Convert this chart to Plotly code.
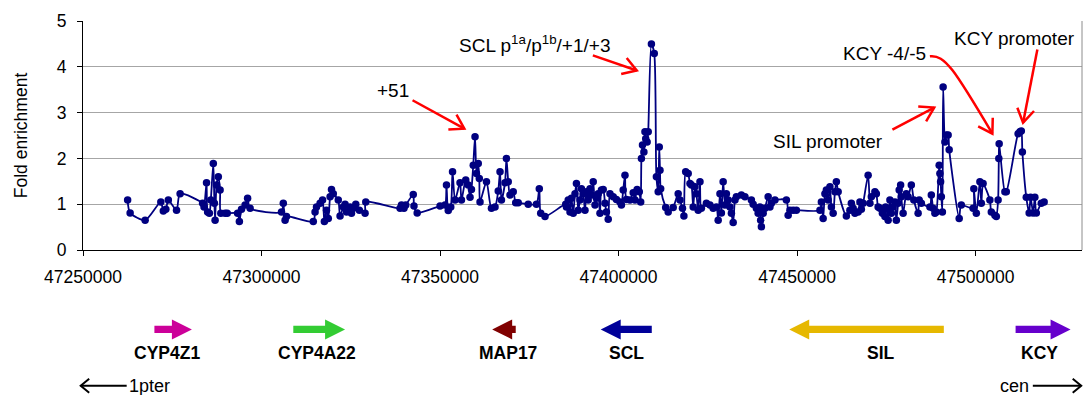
import math
import plotly.graph_objects as go

# ---------------- data ----------------
positions = [
    47262500, 47263200, 47267400, 47271800, 47272500, 47273200, 47273900, 47276200, 47277200, 47283500,
    47283900, 47284600, 47284900, 47285400, 47285800, 47286500, 47286800, 47287000, 47287400, 47287900,
    47288400, 47288600, 47289800, 47290400, 47293300, 47293800, 47294400, 47295400, 47296100, 47296800,
    47305600, 47306100, 47306600, 47307000,
    47314500, 47315000, 47315400, 47316400, 47317100, 47317600, 47318200, 47318700, 47319200, 47319600,
    47320100, 47321500, 47322000, 47322900, 47323400, 47323800, 47324800, 47325200, 47325700, 47326400,
    47327400, 47329000, 47329200,
    47338800, 47339200, 47339900, 47340400, 47342500, 47342700, 47343600,
    47350000, 47351400, 47351800, 47352300, 47353000, 47353500, 47354200, 47355600, 47356000, 47357200,
    47357900, 47358400, 47358800, 47359300, 47359800, 47360200, 47360700, 47361000, 47361200, 47363000,
    47364400, 47365400, 47366300, 47366800, 47367200, 47368200, 47368600, 47369100, 47369600, 47370500,
    47371200, 47371900, 47374700, 47377000, 47377800, 47378200, 47379400,
    47385200, 47385400, 47385900, 47386400, 47386800, 47387300, 47387800, 47388200, 47388700, 47389200,
    47389600, 47390100, 47390600, 47391000, 47391500, 47392000, 47392400, 47392900, 47393400, 47393800,
    47394300, 47394800, 47395200, 47395700, 47396200, 47396600, 47397100, 47397600, 47398500, 47399400,
    47400400, 47400800, 47401300, 47401800, 47402200, 47403200, 47404100, 47404600, 47405200, 47405800,
    47406200, 47406400, 47406700, 47407100, 47407400, 47407600, 47408000, 47408300, 47409200, 47410000,
    47410600, 47411100, 47411400, 47411600, 47411800, 47413200, 47413900, 47415300, 47416700, 47417200,
    47417900, 47418300, 47418800, 47419500, 47420000, 47420400, 47420900, 47421400, 47421800, 47422300,
    47422800, 47423200, 47424600, 47425600, 47426500, 47427400, 47427900, 47428400, 47428800, 47429300,
    47429800, 47430200, 47430700, 47431200, 47431600, 47432100, 47432600, 47433000, 47434400, 47435400,
    47437200, 47437700, 47438600, 47439100, 47439600, 47439800, 47440000, 47440500, 47441000, 47441900,
    47442400, 47442800, 47443800, 47447000, 47447500, 47448000, 47448900, 47449800,
    47456400, 47456800, 47457300, 47457800, 47458200, 47458700, 47459200, 47459600, 47460100, 47460600,
    47461000, 47461500, 47463800, 47464800, 47465200, 47465700, 47466200,
    47467100, 47467600, 47468000, 47468500, 47469900, 47470400, 47470800, 47471800, 47472200, 47472700,
    47473200, 47473900, 47474600, 47474800, 47475200, 47475500, 47476000, 47476400, 47476900, 47477400,
    47477800, 47478300, 47478600, 47479000, 47479200, 47479700, 47480600, 47481100, 47482000, 47482700,
    47483900, 47484200, 47484800, 47487200, 47487600, 47488100, 47488600, 47489000, 47489800, 47490000,
    47490200, 47490400, 47490700, 47490900, 47491400, 47491800, 47492300, 47492600, 47495400, 47496000,
    47499300, 47499500, 47500200, 47501200, 47501600, 47502100, 47504000, 47504400, 47505400, 47505800,
    47506300, 47506500, 47506600, 47508200, 47508600, 47511900, 47512400, 47512800, 47513100, 47514200,
    47515000, 47515400, 47516100, 47516600, 47517000, 47518400, 47519200,
]

fold = [
    1.09, 0.81, 0.65, 1.05, 0.85, 0.89, 1.09, 0.87, 1.23, 1.02,
    0.94, 1.47, 0.83, 0.80, 1.09, 1.89, 1.02, 0.65, 1.42, 1.60,
    1.31, 0.80, 0.80, 0.80, 0.80, 0.62, 0.89, 0.98, 1.13, 0.91,
    0.83, 1.02, 0.65, 0.73,
    0.62, 0.83, 0.94, 1.02, 1.09, 0.62, 0.87, 0.69, 1.16, 1.32,
    1.23, 1.09, 0.74, 0.94, 1.00, 0.83, 0.94, 0.80, 0.91, 1.00,
    0.87, 0.80, 1.05,
    0.91, 0.98, 0.91, 0.98, 1.21, 0.96, 0.81,
    0.96, 0.98, 1.42, 0.86, 0.94, 1.71, 1.09, 1.47, 1.09, 1.53,
    1.42, 1.15, 1.32, 1.85, 2.47, 1.67, 1.89, 1.56, 1.05, 1.49,
    0.91, 0.94, 1.29, 1.71, 1.09, 1.47, 2.00, 1.49, 1.20, 1.27,
    1.03, 1.03, 1.00, 1.00, 1.34, 0.80, 0.73,
    1.00, 0.94, 1.09, 0.83, 1.13, 0.80, 1.23, 1.45, 0.87, 1.09,
    1.34, 1.23, 0.87, 1.27, 1.09, 1.34, 1.20, 1.49, 0.98, 1.13,
    1.23, 0.80, 1.31, 1.32, 1.02, 0.83, 0.67, 1.23, 1.16, 1.10,
    1.05, 0.98, 1.31, 1.63, 1.10, 1.09, 1.25, 1.09, 1.32, 1.27,
    1.05, 2.00, 2.29, 2.14, 2.58, 2.43, 2.36, 2.58, 4.50, 4.29,
    1.60, 1.27, 2.25, 1.74, 1.34, 0.93, 0.83, 0.93, 1.23, 1.09,
    0.91, 0.74, 1.71, 1.67, 1.45, 1.42, 0.94, 1.38, 1.23, 0.87,
    1.49, 0.91, 1.02, 0.98, 0.91, 0.94, 0.65, 1.23, 0.81, 1.49,
    0.98, 1.23, 1.09, 0.94, 0.80, 0.60, 1.09, 1.16, 1.20, 1.16,
    1.09, 1.00, 0.91, 0.80, 0.94, 0.65, 0.51, 0.80, 0.91, 1.16,
    0.94, 1.02, 1.09, 1.09, 0.76, 0.87, 0.87, 0.87,
    0.87, 1.05, 0.69, 1.23, 1.31, 1.09, 1.38, 0.94, 0.80, 1.27,
    1.49, 1.27, 0.74, 0.87, 1.02, 0.91, 0.80,
    0.83, 1.05, 0.89, 1.02, 1.63, 1.02, 1.16, 1.27, 1.23, 0.94,
    0.91, 0.80, 0.73, 0.94, 0.89, 0.65, 1.09, 0.80, 0.94, 1.05,
    0.65, 1.02, 1.31, 1.42, 1.16, 0.80, 1.23, 1.16, 1.42, 1.09,
    0.80, 1.09, 1.02, 0.94, 1.20, 0.91, 0.80, 0.83, 1.85, 1.67,
    1.49, 1.16, 0.83, 3.56, 2.36, 2.51, 2.51, 2.19, 0.69, 0.98,
    0.91, 1.34, 0.80, 1.49, 1.02, 1.45, 1.09, 0.83, 0.76, 0.73,
    1.09, 2.00, 2.32, 1.27, 1.27, 2.54, 2.58, 2.60, 2.14, 1.15,
    0.81, 1.15, 0.81, 1.15, 0.81, 1.02, 1.05,
]

x_ticks = [47250000, 47300000, 47350000, 47400000, 47450000, 47500000]
y_ticks = [0, 1, 2, 3, 4, 5]

genes = ["CYP4Z1", "CYP4A22", "MAP17", "SCL", "SIL", "KCY"]
gene_start = [47270000, 47308900, 47364600, 47395000, 47447800, 47511200]
gene_end = [47280500, 47323400, 47371200, 47409300, 47491100, 47526600]
gene_strand = [1, 1, -1, -1, -1, 1]
gene_label_pos = [47273400, 47315500, 47369100, 47402200, 47473400, 47517900]
gene_colors = ["#CC0099", "#33CC33", "#800000", "#000099", "#E6B800", "#6600CC"]

# peak labels: text, text position, arrow tail, arrow tip
peak_labels = ["+51", "SCL p<sup>1a</sup>/p<sup>1b</sup>/+1/+3", "SIL promoter", "KCY -4/-5", "KCY promoter"]
peak_label_x = [47336700, 47376400, 47458600, 47474500, 47510800]
peak_label_y = [3.48, 4.50, 2.36, 4.30, 4.62]
arrow_tail = [(47342300, 3.27), (47392800, 4.25), (47476700, 2.63), None, (47517300, 4.38)]
arrow_tip = [(47356800, 2.65), (47405100, 3.92), (47488400, 3.11), (47504700, 2.54), (47513300, 2.78)]
# curved arrow for KCY -4/-5 (start, control1, control2)
curve_pts = [(47487200, 4.23), (47491400, 4.27), (47494200, 3.92)]

# ---------------- layout constants ----------------
W, H = 1084, 395
ML, MR, MT, MB = 83, 1.5, 20.7, 145
PW, PH = W - ML - MR, H - MT - MB
X0, X1 = 47250000, 47529800
Y0, Y1 = 0, 5
FONT = "Liberation Sans, Arial, sans-serif"


def to_px(x, y):
    return ML + (x - X0) / (X1 - X0) * PW, MT + (Y1 - y) / (Y1 - Y0) * PH


def to_data(px, py):
    return X0 + (px - ML) / PW * (X1 - X0), Y1 - (py - MT) / PH * (Y1 - Y0)


def paper_x(px):
    return (px - ML) / PW


def paper_y(py):
    return (MT + PH - py) / PH


def vhead(tip, frm, length=16, ang=32):
    tx, ty = to_px(*tip)
    fx, fy = to_px(*frm)
    dx, dy = tx - fx, ty - fy
    n = math.hypot(dx, dy)
    ux, uy = dx / n, dy / n
    pts = []
    for s in (1, -1):
        a = math.radians(ang * s)
        rx = ux * math.cos(a) - uy * math.sin(a)
        ry = ux * math.sin(a) + uy * math.cos(a)
        pts.append(to_data(tx - length * rx, ty - length * ry))
    return "M {},{} L {},{} L {},{}".format(pts[0][0], pts[0][1], tip[0], tip[1], pts[1][0], pts[1][1])


fig = go.Figure()
fig.add_trace(go.Scatter(
    x=positions, y=fold, mode="lines+markers",
    line=dict(color="#000080", width=1.8, shape="spline", smoothing=0.7),
    marker=dict(color="#000080", size=7.5, symbol="circle"),
    showlegend=False, cliponaxis=False,
))

shapes = []
annotations = []

# right border of plot area
shapes.append(dict(type="line", xref="paper", yref="paper", x0=1, x1=1, y0=0, y1=1,
                   line=dict(color="#8c8c8c", width=1)))

# red arrows
RED = "#FF0000"
for tail, tip in zip(arrow_tail, arrow_tip):
    if tail is None:
        continue
    shapes.append(dict(type="path", xref="x", yref="y",
                       path="M {},{} L {},{}".format(tail[0], tail[1], tip[0], tip[1]),
                       line=dict(color=RED, width=2.5)))
    shapes.append(dict(type="path", xref="x", yref="y", path=vhead(tip, tail),
                       line=dict(color=RED, width=2.5)))
# curved arrow
p0, c1, c2 = curve_pts
tip = arrow_tip[3]
shapes.append(dict(type="path", xref="x", yref="y",
                   path="M {},{} C {},{} {},{} {},{}".format(p0[0], p0[1], c1[0], c1[1], c2[0], c2[1], tip[0], tip[1]),
                   line=dict(color=RED, width=2.5)))
shapes.append(dict(type="path", xref="x", yref="y", path=vhead(tip, c2),
                   line=dict(color=RED, width=2.5)))

for t, x, y in zip(peak_labels, peak_label_x, peak_label_y):
    annotations.append(dict(text=t, x=x, y=y, xref="x", yref="y", showarrow=False,
                            xanchor="center", yanchor="middle",
                            font=dict(family=FONT, size=19, color="#000000")))

# gene arrows (block arrows)
yc = paper_y(329.5)
shaft = 3.6 / PH
head = 10.0 / PH
head_len = 20.0 / PW * (X1 - X0)
for name, s0, s1, strand, lx, col in zip(genes, gene_start, gene_end, gene_strand, gene_label_pos, gene_colors):
    if strand > 0:
        hb = s1 - head_len
        path = ("M {a},{y1} L {hb},{y1} L {hb},{y2} L {tip},{yc} L {hb},{y3} L {hb},{y4} L {a},{y4} Z"
                .format(a=s0, hb=hb, tip=s1, yc=yc, y1=yc + shaft, y2=yc + head, y3=yc - head, y4=yc - shaft))
    else:
        hb = s0 + head_len
        path = ("M {a},{y1} L {hb},{y1} L {hb},{y2} L {tip},{yc} L {hb},{y3} L {hb},{y4} L {a},{y4} Z"
                .format(a=s1, hb=hb, tip=s0, yc=yc, y1=yc + shaft, y2=yc + head, y3=yc - head, y4=yc - shaft))
    shapes.append(dict(type="path", xref="x", yref="paper", path=path,
                       fillcolor=col, line=dict(width=0)))
    annotations.append(dict(text="<b>" + name + "</b>", x=lx, y=paper_y(353), xref="x", yref="paper",
                            showarrow=False, xanchor="center", yanchor="middle",
                            font=dict(family=FONT, size=17.5, color="#000000")))

# chromosome orientation arrows
ya = paper_y(386)
hx = 8.5 / PW
hy = 7.0 / PH
l0, l1 = paper_x(80.7), paper_x(126.7)
shapes.append(dict(type="path", xref="paper", yref="paper",
                   path="M {},{} L {},{}".format(l0, ya, l1, ya), line=dict(color="#000000", width=2)))
shapes.append(dict(type="path", xref="paper", yref="paper",
                   path="M {},{} L {},{} L {},{}".format(l0 + hx, ya + hy, l0, ya, l0 + hx, ya - hy),
                   line=dict(color="#000000", width=2)))
annotations.append(dict(text="1pter", x=paper_x(127.5), y=paper_y(386), xref="paper", yref="paper",
                        showarrow=False, xanchor="left", yanchor="middle",
                        font=dict(family=FONT, size=18, color="#000000")))
r0, r1 = paper_x(1033.3), paper_x(1081.7)
shapes.append(dict(type="path", xref="paper", yref="paper",
                   path="M {},{} L {},{}".format(r0, ya, r1, ya), line=dict(color="#000000", width=2)))
shapes.append(dict(type="path", xref="paper", yref="paper",
                   path="M {},{} L {},{} L {},{}".format(r1 - hx, ya + hy, r1, ya, r1 - hx, ya - hy),
                   line=dict(color="#000000", width=2)))
annotations.append(dict(text="cen", x=paper_x(1031), y=paper_y(386), xref="paper", yref="paper",
                        showarrow=False, xanchor="right", yanchor="middle",
                        font=dict(family=FONT, size=18, color="#000000")))

fig.update_layout(
    width=W, height=H, autosize=False,
    margin=dict(l=ML, r=MR, t=MT, b=MB, pad=0),
    paper_bgcolor="#FFFFFF", plot_bgcolor="#FFFFFF",
    font=dict(family=FONT, color="#000000"),
    shapes=shapes, annotations=annotations,
    xaxis=dict(range=[X0, X1], tickvals=x_ticks, ticktext=[str(v) for v in x_ticks],
               showgrid=False, zeroline=False, showline=True, linecolor="#000000", linewidth=1,
               ticks="outside", ticklen=5, tickcolor="#000000", tickwidth=1,
               tickfont=dict(family=FONT, size=17.5, color="#000000"), ticklabelstandoff=6),
    yaxis=dict(range=[Y0, Y1], tickvals=y_ticks, ticktext=[str(v) for v in y_ticks],
               showgrid=True, gridcolor="#a6a6a6", gridwidth=1, zeroline=False,
               showline=True, linecolor="#000000", linewidth=1,
               ticks="outside", ticklen=5, tickcolor="#000000", tickwidth=1,
               tickfont=dict(family=FONT, size=17.5, color="#000000"), ticklabelstandoff=7,
               title=dict(text="Fold enrichment", font=dict(family=FONT, size=17.5, color="#000000"),
                          standoff=24)),
)

fig.write_html("out.html")
